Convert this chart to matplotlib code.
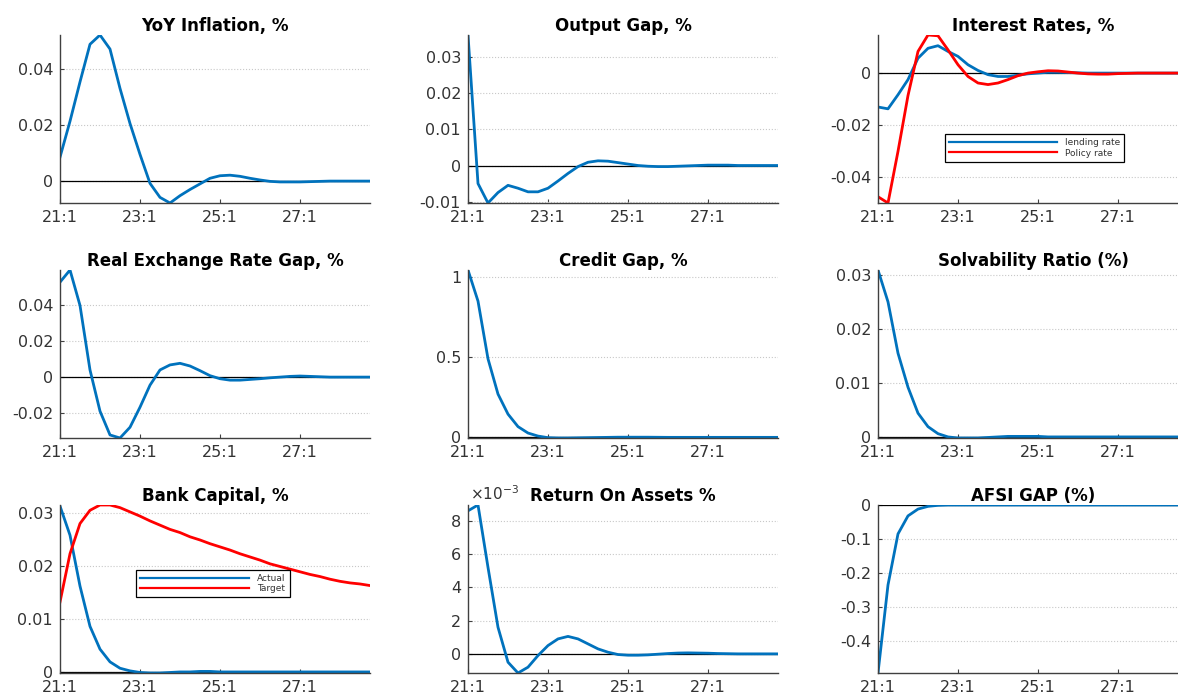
import numpy as np
import matplotlib
matplotlib.use("Agg")
import matplotlib.pyplot as plt
from matplotlib.ticker import FuncFormatter, MultipleLocator

# impulse responses, quarters 21:1 .. 28:4
quarters = np.arange(32)
tick_pos = [0, 8, 16, 24]
tick_labels = ["21:1", "23:1", "25:1", "27:1"]

inflation = [0.0085, 0.0213, 0.0353, 0.0487, 0.0520, 0.0470, 0.0330, 0.0205,
             0.0095, -0.0008, -0.0058, -0.0078, -0.0052, -0.0030, -0.0010, 0.0010,
             0.0019, 0.0021, 0.0017, 0.0010, 0.0004, -0.0001, -0.0003, -0.0003,
             -0.0003, -0.0002, -0.0001, 0.0, 0.0, 0.0, 0.0, 0.0]
output_gap = [0.0362, -0.0050, -0.0104, -0.0075, -0.0055, -0.0063, -0.0073, -0.0073,
              -0.0063, -0.0043, -0.0022, -0.0003, 0.0009, 0.0013, 0.0012, 0.0008,
              0.0004, 0.0, -0.0002, -0.0003, -0.0003, -0.0002, -0.0001, 0.0,
              0.0001, 0.0001, 0.0001, 0.0, 0.0, 0.0, 0.0, 0.0]
lending_rate = [-0.0130, -0.0137, -0.0083, -0.0025, 0.0057, 0.0095, 0.0105, 0.0083,
                0.0064, 0.0032, 0.0010, -0.0006, -0.0013, -0.0013, -0.0008, -0.0003,
                0.0, 0.0003, 0.0003, 0.0002, 0.0001, 0.0, 0.0, 0.0,
                0.0, 0.0, 0.0, 0.0, 0.0, 0.0, 0.0, 0.0]
policy_rate = [-0.0474, -0.0498, -0.0300, -0.0086, 0.0083, 0.0146, 0.0143, 0.0089,
               0.0032, -0.0013, -0.0038, -0.0044, -0.0038, -0.0025, -0.0010, 0.0,
               0.0005, 0.0009, 0.0008, 0.0004, 0.0, -0.0003, -0.0004, -0.0004,
               -0.0002, -0.0001, 0.0, 0.0, 0.0, 0.0, 0.0, 0.0]
rer_gap = [0.0530, 0.0598, 0.0400, 0.0040, -0.0190, -0.0323, -0.0340, -0.0280,
           -0.0168, -0.0045, 0.0040, 0.0068, 0.0077, 0.0062, 0.0036, 0.0008,
           -0.0009, -0.0017, -0.0017, -0.0013, -0.0009, -0.0004, 0.0, 0.0004,
           0.0006, 0.0004, 0.0002, 0.0, 0.0, 0.0, 0.0, 0.0]
credit_gap = [1.044, 0.850, 0.490, 0.270, 0.145, 0.067, 0.027, 0.008,
              -0.002, -0.004, -0.004, -0.003, -0.002, -0.001, 0.0, 0.001,
              0.001, 0.001, 0.001, 0.0005, 0.0, 0.0, 0.0, 0.0,
              0.0, 0.0, 0.0, 0.0, 0.0, 0.0, 0.0, 0.0]
solvability = [0.0309, 0.0250, 0.0155, 0.0092, 0.0044, 0.0019, 0.0006, 0.0,
               -0.0002, -0.0002, -0.0002, -0.0001, 0.0, 0.0001, 0.0001, 0.0001,
               0.0001, 0.0, 0.0, 0.0, 0.0, 0.0, 0.0, 0.0,
               0.0, 0.0, 0.0, 0.0, 0.0, 0.0, 0.0, 0.0]
capital_actual = [0.0313, 0.0258, 0.0162, 0.0086, 0.0043, 0.0019, 0.0007, 0.0002,
                  -0.0001, -0.0002, -0.0002, -0.0001, 0.0, 0.0, 0.0001, 0.0001,
                  0.0, 0.0, 0.0, 0.0, 0.0, 0.0, 0.0, 0.0,
                  0.0, 0.0, 0.0, 0.0, 0.0, 0.0, 0.0, 0.0]
capital_target = [0.0132, 0.0223, 0.0280, 0.0305, 0.0315, 0.0315, 0.0310, 0.0302,
                  0.0294, 0.0285, 0.0277, 0.0269, 0.0263, 0.0255, 0.0249, 0.0242,
                  0.0236, 0.0230, 0.0223, 0.0217, 0.0211, 0.0204, 0.0199, 0.0194,
                  0.0189, 0.0184, 0.0180, 0.0175, 0.0171, 0.0168, 0.0166, 0.0163]
roa = [0.00860, 0.00895, 0.00520, 0.00160, -0.00050, -0.00115, -0.00080, -0.00010,
       0.00050, 0.00090, 0.00105, 0.00090, 0.00060, 0.00030, 0.00010, -0.00004,
       -0.00008, -0.00008, -0.00006, -0.00002, 0.00002, 0.00005, 0.00006, 0.00005,
       0.00004, 0.00002, 0.00001, 0.0, 0.0, 0.0, 0.0, 0.0]
afsi_gap = [-0.494, -0.235, -0.085, -0.032, -0.012, -0.004, -0.001, 0.0,
            0.0, 0.0, 0.0, 0.0, 0.0, 0.0, 0.0, 0.0,
            0.0, 0.0, 0.0, 0.0, 0.0, 0.0, 0.0, 0.0,
            0.0, 0.0, 0.0, 0.0, 0.0, 0.0, 0.0, 0.0]

BLUE = "#0072BD"
RED = "#FF0000"
AXC = "#404040"

plt.rcParams["font.family"] = "DejaVu Sans"

fig = plt.figure(figsize=(11.78, 6.93), dpi=100)
W, H = 1178.0, 693.0

col_left = [60, 468, 878]
row_top = [35, 270, 505]
ax_w, ax_h = 310, 168


def make_axes(r, c):
    x0 = col_left[c]
    y0 = row_top[r] + ax_h
    return fig.add_axes([x0 / W, 1 - y0 / H, ax_w / W, ax_h / H])


def style(ax, title, step, scale=1.0):
    ax.axhline(0, color="black", lw=0.9, zorder=1.5)
    ax.set_xlim(0, 31)
    ax.set_xticks(tick_pos)
    ax.set_xticklabels(tick_labels)
    ax.yaxis.set_major_locator(MultipleLocator(step))
    ax.yaxis.set_major_formatter(FuncFormatter(lambda v, p: "%g" % round(v * scale, 8)))
    ax.grid(axis="y", linestyle=":", color="#c8c8c8", lw=0.8)
    ax.set_axisbelow(True)
    for s in ("top", "right"):
        ax.spines[s].set_visible(False)
    for s in ("left", "bottom"):
        ax.spines[s].set_color(AXC)
        ax.spines[s].set_linewidth(1.0)
    ax.tick_params(direction="in", length=3, width=0.8, colors=AXC,
                   labelsize=11.5, labelcolor="#333333", pad=5)
    ax.set_title(title, fontsize=12, fontweight="bold", pad=3)


def tight(ax, *series):
    vals = np.concatenate([np.asarray(s) for s in series])
    ax.set_ylim(vals.min(), vals.max())


def small_legend(ax, anchor):
    leg = ax.legend(loc="lower left", bbox_to_anchor=anchor, fontsize=6.5,
                    handlelength=12, handletextpad=0.9, borderpad=0.45,
                    labelspacing=0.15, fancybox=False, framealpha=1)
    leg.get_frame().set_edgecolor("black")
    leg.get_frame().set_linewidth(0.9)
    for t in leg.get_texts():
        t.set_color("#333333")
    for h in leg.get_lines():
        h.set_linewidth(1.6)


# row 1
ax = make_axes(0, 0)
ax.plot(quarters, inflation, color=BLUE, lw=2)
tight(ax, inflation)
style(ax, "YoY Inflation, %", 0.02)

ax = make_axes(0, 1)
ax.plot(quarters, output_gap, color=BLUE, lw=2)
tight(ax, output_gap)
style(ax, "Output Gap, %", 0.01)

ax = make_axes(0, 2)
ax.plot(quarters, lending_rate, color=BLUE, lw=2, label="lending rate")
ax.plot(quarters, policy_rate, color=RED, lw=2, label="Policy rate")
tight(ax, lending_rate, policy_rate)
style(ax, "Interest Rates, %", 0.02)
small_legend(ax, (0.2, 0.219))

# row 2
ax = make_axes(1, 0)
ax.plot(quarters, rer_gap, color=BLUE, lw=2)
tight(ax, rer_gap)
style(ax, "Real Exchange Rate Gap, %", 0.02)

ax = make_axes(1, 1)
ax.plot(quarters, credit_gap, color=BLUE, lw=2)
tight(ax, credit_gap)
style(ax, "Credit Gap, %", 0.5)

ax = make_axes(1, 2)
ax.plot(quarters, solvability, color=BLUE, lw=2)
tight(ax, solvability)
style(ax, "Solvability Ratio (%)", 0.01)

# row 3
ax = make_axes(2, 0)
ax.plot(quarters, capital_actual, color=BLUE, lw=2, label="Actual")
ax.plot(quarters, capital_target, color=RED, lw=2, label="Target")
tight(ax, capital_actual, capital_target)
style(ax, "Bank Capital, %", 0.01)
small_legend(ax, (0.232, 0.425))

ax = make_axes(2, 1)
ax.plot(quarters, roa, color=BLUE, lw=2)
tight(ax, roa)
style(ax, "Return On Assets %", 0.002, scale=1e3)
ax.text(0.005, 1.01, r"$\times10^{-3}$", transform=ax.transAxes, ha="left",
        va="bottom", fontsize=11, color="#333333")

ax = make_axes(2, 2)
ax.plot(quarters, afsi_gap, color=BLUE, lw=2)
tight(ax, afsi_gap)
style(ax, "AFSI GAP (%)", 0.1)

fig.savefig("out.png", dpi=100)
